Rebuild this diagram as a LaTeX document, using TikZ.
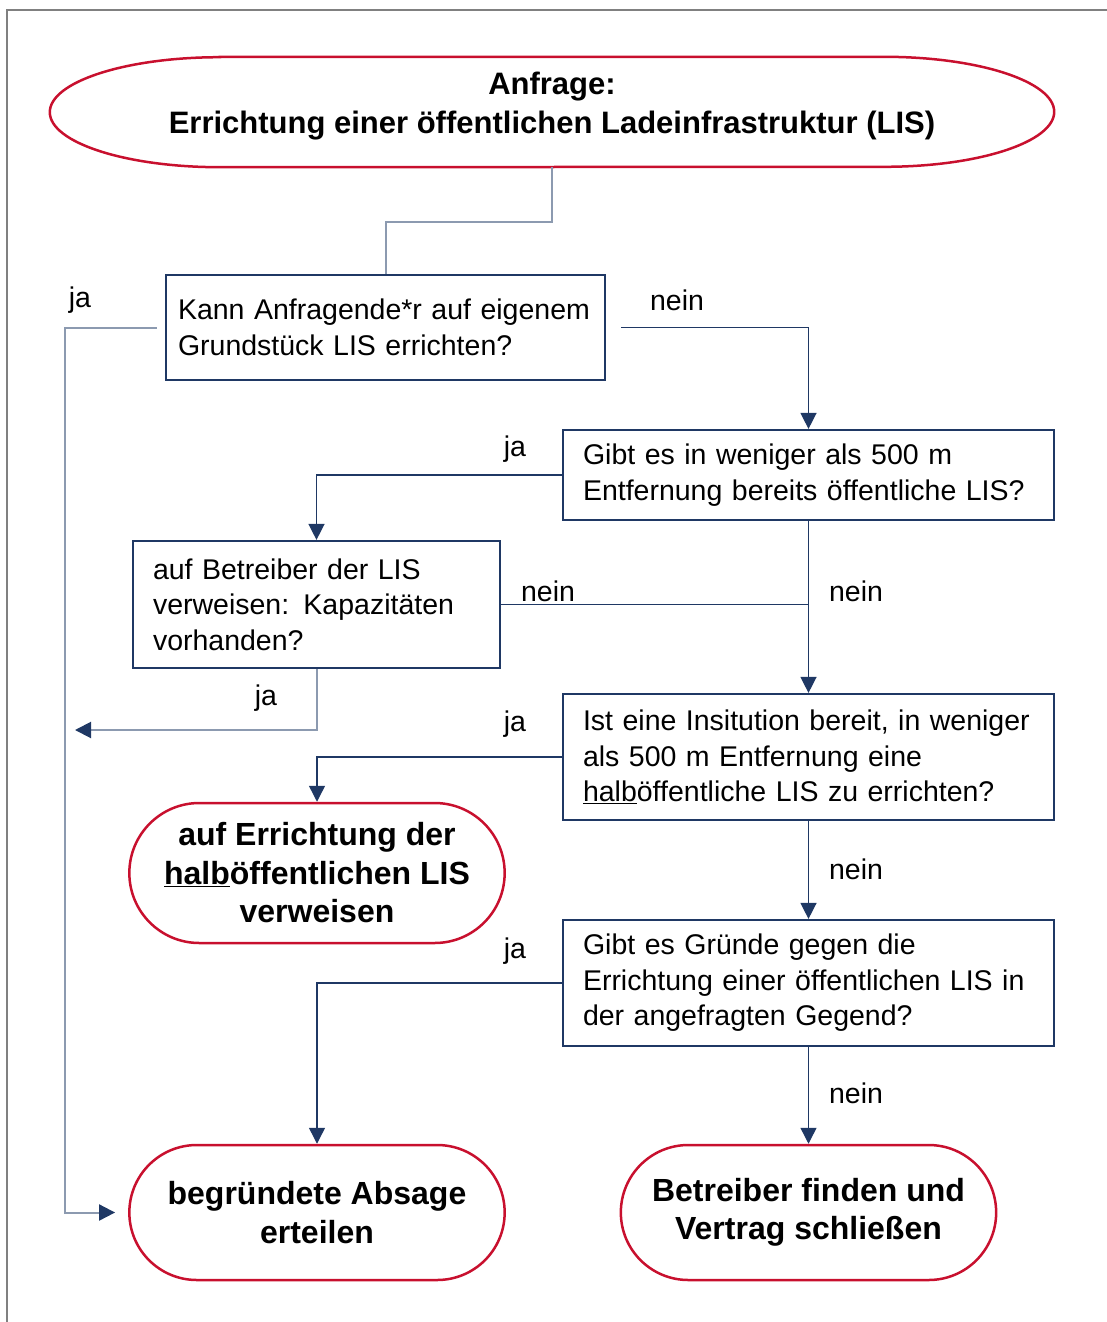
\documentclass[tikz,border=0pt]{standalone}
\usepackage{fontspec}
\setmainfont{Liberation Sans}
\usepackage{xcolor}
\usetikzlibrary{arrows.meta,shapes.misc,positioning,calc}

\definecolor{navy}{RGB}{31,56,100}
\definecolor{lisred}{RGB}{200,16,46}
\definecolor{greyblue}{RGB}{140,154,176}
\definecolor{framegrey}{RGB}{128,128,128}

\begin{document}
\begin{tikzpicture}[
    x=1pt, y=-1pt,
    question/.style={rectangle, draw=navy, line width=2.2pt, inner xsep=20pt,
        align=left, font=\fontsize{28.5}{35.5}\selectfont},
    terminal/.style={rounded rectangle, draw=lisred, line width=2.5pt,
        minimum width=382pt, align=center, font=\fontsize{32}{38.5}\selectfont\bfseries},
    lbl/.style={font=\fontsize{28.5}{34}\selectfont, inner sep=0pt},
    link/.style={draw=navy, line width=1.4pt},
    linklight/.style={draw=greyblue, line width=2pt},
    arrow/.style={-{Triangle[length=16pt, width=16pt, color=navy]}}
]
    \useasboundingbox (0,0) rectangle (1107,1322);
    \draw[framegrey, line width=2pt] (1107,10) -- (7,10) -- (7,1322);

    % start oval
    \node[minimum width=1004pt, minimum height=110pt] (req) at (552,112) {};
    \draw[lisred, line width=2.5pt] ($(req.north west)+(170,0)$) -- ($(req.north east)+(-170,0)$)
        arc[start angle=90, end angle=-90, x radius=170pt, y radius=55pt]
        -- ($(req.south west)+(170,0)$)
        arc[start angle=270, end angle=90, x radius=170pt, y radius=55pt] -- cycle;
    \node[align=center, font=\fontsize{31}{39}\selectfont\bfseries] (reqtxt)
        at ([yshift=6pt]req.center) {Anfrage:\\Errichtung einer öffentlichen Ladeinfrastruktur (LIS)};

    % questions
    \node[question, inner xsep=12pt, minimum width=439pt, minimum height=105pt, text width=415pt] (own) at (385.5,327.5)
        {Kann Anfragende*r auf eigenem\\Grundstück LIS errichten?};
    \node[question, minimum width=491pt, minimum height=90pt, text width=451pt] (near) at (808.5,475)
        {Gibt es in weniger als 500 m\\Entfernung bereits öffentliche LIS?};
    \node[question, minimum width=367pt, minimum height=127pt, text width=327pt] (operator) at (316.5,604.5)
        {auf Betreiber der LIS\\verweisen: Kapazitäten\\vorhanden?};
    \node[question, minimum width=491pt, minimum height=126pt, text width=451pt] (institution) at (808.5,757)
        {Ist eine Insitution bereit, in weniger\\als 500 m Entfernung eine\\\underline{halb}öffentliche LIS zu errichten?};
    \node[question, minimum width=491pt, minimum height=126pt, text width=451pt] (reasons) at (808.5,983)
        {Gibt es Gründe gegen die\\Errichtung einer öffentlichen LIS in\\der angefragten Gegend?};

    % results
    \node[terminal, minimum height=140pt] (semipublic) at (317,873)
        {auf Errichtung der\\\underline{halb}öffentlichen LIS\\verweisen};
    \node[terminal, minimum height=135pt] (refusal) at (317,1212.5)
        {begründete Absage\\erteilen};
    \node[terminal, minimum height=135pt] (contract) at (808.5,1212.5)
        {Betreiber finden und\\Vertrag schließen};

    \coordinate (back) at (75,730);

    % connectors
    \draw[linklight] (req.south) -- ++(0,55) -| (own.north);
    \draw[linklight, arrow] ([xshift=-8pt]own.west) -- ++(-92,0) |- ([xshift=-13pt]refusal.west);
    \draw[link, arrow] ([xshift=15pt]own.east) -| (near.north);
    \draw[link, arrow] (near.west) -| (operator.north);
    \draw[link] (operator.east) -- (near.south |- operator.east);
    \draw[link, arrow] (near.south) -- (institution.north);
    \draw[linklight, arrow] (operator.south) |- (back);
    \draw[link, arrow] (institution.west) -| (semipublic.north);
    \draw[link, arrow] (institution.south) -- (reasons.north);
    \draw[link, arrow] (reasons.west) -| (refusal.north);
    \draw[link, arrow] (reasons.south) -- (contract.north);

    % labels
    \node[lbl] (ja1) at (80,300) {ja};
    \node[lbl] (nein1) at (677,300) {nein};
    \node[lbl] (ja2) at (515,449) {ja};
    \node[lbl] (nein2) at (548,591) {nein};
    \node[lbl] (nein3) at (856,591) {nein};
    \node[lbl] (ja3) at (266,698) {ja};
    \node[lbl] (ja4) at (515,724) {ja};
    \node[lbl] (nein4) at (856,869) {nein};
    \node[lbl] (ja5) at (515,951) {ja};
    \node[lbl] (nein5) at (856,1093) {nein};
\end{tikzpicture}
\end{document}
